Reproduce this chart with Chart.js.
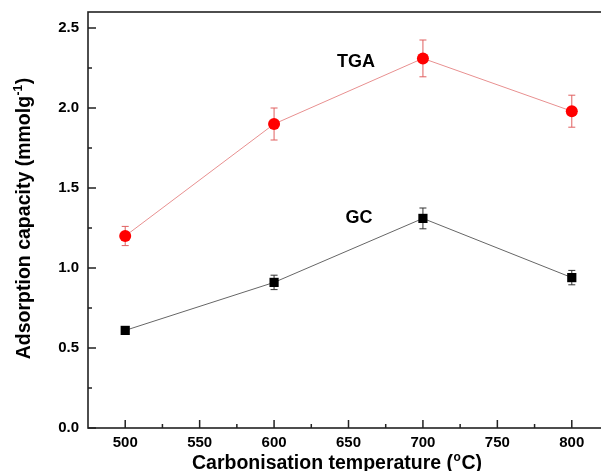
<!DOCTYPE html>
<html><head><meta charset="utf-8">
<script src="https://cdn.jsdelivr.net/npm/chart.js@4.4.1/dist/chart.umd.min.js"></script>
<style>html,body{margin:0;padding:0;overflow:hidden;background:#fff}#wrap{width:609px;height:471px}</style>
</head><body>
<div id="wrap"><canvas id="c" width="609" height="471" style="width:609px;height:471px"></canvas></div>
<script>
const temps = [500, 600, 700, 800];
const tgaValues = [1.20, 1.90, 2.31, 1.98];
const tgaErrors = [0.06, 0.10, 0.115, 0.10];
const gcValues = [0.61, 0.91, 1.31, 0.94];
const gcErrors = [0.02, 0.045, 0.065, 0.045];
const xTicks = [500, 550, 600, 650, 700, 750, 800];
const xMinorTicks = [525, 575, 625, 675, 725, 775];
const yTicks = [0.0, 0.5, 1.0, 1.5, 2.0, 2.5];
const yMinorTicks = [0.25, 0.75, 1.25, 1.75, 2.25];
const seriesLabels = [
  {text: 'TGA', x: 655, y: 2.29},
  {text: 'GC', x: 657, y: 1.31}
];
const xTitleParts = [['Carbonisation temperature (', false], ['o', true], ['C)', false]];
const yTitleParts = [['Adsorption capacity (mmolg', false], ['-1', true], [')', false]];

const FONT = 'Arial, "Liberation Sans", sans-serif';
const MAIN = 'bold 19.5px ' + FONT;
const SUP = 'bold 12px ' + FONT;

function drawParts(ctx, parts, cx, cy) {
  let total = 0;
  parts.forEach(([t, sup]) => { ctx.font = sup ? SUP : MAIN; total += ctx.measureText(t).width + (sup ? 1 : 0); });
  let x = cx - total / 2;
  ctx.textAlign = 'left';
  ctx.textBaseline = 'alphabetic';
  parts.forEach(([t, sup]) => {
    ctx.font = sup ? SUP : MAIN;
    ctx.fillText(t, x + (sup ? 0.5 : 0), cy + 7 - (sup ? 8 : 0));
    x += ctx.measureText(t).width + (sup ? 1 : 0);
  });
}

const errPlugin = {
  id: 'errbars',
  beforeDatasetsDraw(chart) {
    const ctx = chart.ctx, xs = chart.scales.x, ys = chart.scales.y;
    const sets = [[tgaValues, tgaErrors, '#e06060'], [gcValues, gcErrors, '#333333']];
    ctx.save();
    ctx.lineWidth = 1;
    sets.forEach(([vals, errs, col]) => {
      ctx.strokeStyle = col;
      vals.forEach((v, i) => {
        const px = xs.getPixelForValue(temps[i]);
        const t = ys.getPixelForValue(v + errs[i]);
        const b = ys.getPixelForValue(v - errs[i]);
        ctx.beginPath();
        ctx.moveTo(px, t); ctx.lineTo(px, b);
        ctx.moveTo(px - 3.5, t); ctx.lineTo(px + 3.5, t);
        ctx.moveTo(px - 3.5, b); ctx.lineTo(px + 3.5, b);
        ctx.stroke();
      });
    });
    ctx.restore();
  },
  afterDraw(chart) {
    const ctx = chart.ctx, xs = chart.scales.x, ys = chart.scales.y, a = chart.chartArea;
    ctx.save();
    ctx.strokeStyle = '#222';
    ctx.lineWidth = 1.6;
    ctx.strokeRect(a.left, a.top, a.right - a.left, a.bottom - a.top);
    ctx.lineWidth = 1.5;
    ctx.beginPath();
    xTicks.forEach(v => { const p = xs.getPixelForValue(v); ctx.moveTo(p, a.bottom); ctx.lineTo(p, a.bottom - 8); });
    xMinorTicks.forEach(v => { const p = xs.getPixelForValue(v); ctx.moveTo(p, a.bottom); ctx.lineTo(p, a.bottom - 4); });
    yTicks.forEach(v => { const p = ys.getPixelForValue(v); ctx.moveTo(a.left, p); ctx.lineTo(a.left + 8, p); });
    yMinorTicks.forEach(v => { const p = ys.getPixelForValue(v); ctx.moveTo(a.left, p); ctx.lineTo(a.left + 4, p); });
    ctx.stroke();
    ctx.fillStyle = '#000';
    ctx.font = 'bold 18px ' + FONT;
    ctx.textAlign = 'center';
    ctx.textBaseline = 'middle';
    seriesLabels.forEach(l => {
      ctx.fillText(l.text, xs.getPixelForValue(l.x), ys.getPixelForValue(l.y));
    });
    drawParts(ctx, xTitleParts, 337, 462);
    ctx.save();
    ctx.translate(23, (a.top + a.bottom) / 2 - 1.5);
    ctx.rotate(-Math.PI / 2);
    drawParts(ctx, yTitleParts, 0, 0);
    ctx.restore();
    ctx.restore();
  }
};

new Chart(document.getElementById('c'), {
  type: 'line',
  data: {
    datasets: [
      {
        label: 'TGA',
        data: temps.map((t, i) => ({x: t, y: tgaValues[i]})),
        borderColor: '#e89090',
        borderWidth: 1,
        pointStyle: 'circle',
        pointRadius: 6,
        pointBackgroundColor: '#ff0000',
        pointBorderColor: '#ff0000',
        pointBorderWidth: 0,
        tension: 0
      },
      {
        label: 'GC',
        data: temps.map((t, i) => ({x: t, y: gcValues[i]})),
        borderColor: '#666666',
        borderWidth: 1,
        pointStyle: 'rect',
        pointRadius: 6.5,
        pointBackgroundColor: '#000000',
        pointBorderColor: '#000000',
        pointBorderWidth: 0,
        tension: 0
      }
    ]
  },
  options: {
    responsive: false,
    animation: false,
    layout: {autoPadding: false, padding: {top: 12, right: 0, left: 0, bottom: 0}},
    plugins: {legend: {display: false}, tooltip: {enabled: false}},
    scales: {
      x: {
        type: 'linear', min: 475, max: 825,
        afterBuildTicks: s => { s.ticks = xTicks.map(v => ({value: v})); },
        afterFit: s => { s.height = 43; s.paddingLeft = 0; s.paddingRight = 0; },
        grid: {display: false, drawTicks: false},
        border: {display: false},
        ticks: {color: '#000', font: {family: FONT, size: 15, weight: 'bold'}, padding: 6, maxRotation: 0,
                callback: v => String(v)},
        title: {display: false}
      },
      y: {
        type: 'linear', min: 0, max: 2.6,
        afterBuildTicks: s => { s.ticks = yTicks.map(v => ({value: v})); },
        afterFit: s => { s.width = 88; s.paddingTop = 0; s.paddingBottom = 0; },
        grid: {display: false, drawTicks: false},
        border: {display: false},
        ticks: {color: '#000', font: {family: FONT, size: 15, weight: 'bold'}, padding: 9,
                callback: v => v.toFixed(1)},
        title: {display: false}
      }
    }
  },
  plugins: [errPlugin]
});
</script>
</body></html>
